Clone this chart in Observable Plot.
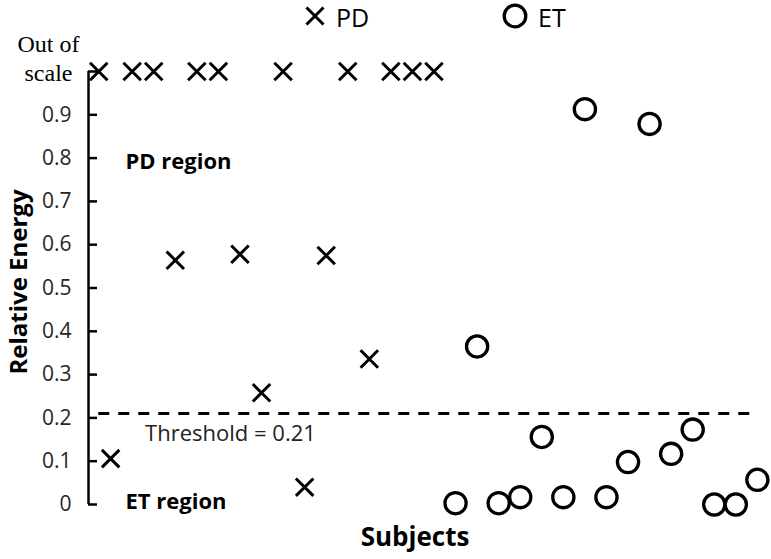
<!DOCTYPE html>
<html>
<head>
<meta charset="utf-8">
<script src="https://cdn.jsdelivr.net/npm/d3@7"></script>
<script src="https://cdn.jsdelivr.net/npm/@observablehq/plot@0.6"></script>
<style>
  body { margin: 0; background: #fff; font-family: "Open Sans", sans-serif; }
  #wrap { position: relative; width: 771px; }
  #legend { position: absolute; left: 0; top: 0; width: 771px; height: 34px; z-index: 1; }
  #legend .item { position: absolute; top: 0; height: 34px; display: flex; align-items: center; }
  #legend .label { font-size: 25px; color: #000; line-height: normal; margin-left: 10px; }
  #legend svg { display: block; margin-top: -3px; }
  #chart svg { display: block; }
</style>
</head>
<body>
<div id="wrap">
<div id="legend"></div>
<div id="chart"></div>
</div>
<script>
// ---- data ----
const OUT_OF_SCALE = 1.0; // value used to plot "Out of scale" subjects
const pdSubjects = [1.45, 2, 3, 4, 5, 6, 7, 8, 9, 10, 11, 12, 13, 14, 15, 16, 17];
const pdValues   = [1.0, 0.106, 1.0, 1.0, 0.564, 1.0, 1.0, 0.578, 0.258, 1.0, 0.04, 0.575, 1.0, 0.336, 1.0, 1.0, 1.0];
const etSubjects = [18, 19, 20, 21, 22, 23, 24, 25, 26, 27, 28, 29, 30, 31, 32];
const etValues   = [0.003, 0.365, 0.003, 0.017, 0.156, 0.017, 0.913, 0.017, 0.098, 0.879, 0.117, 0.173, 0.0, 0.0, 0.057];
const yTickValues = [0, 0.1, 0.2, 0.3, 0.4, 0.5, 0.6, 0.7, 0.8, 0.9];
const outOfScaleLabel = "Out of\nscale";
const threshold = 0.21;
const thresholdLabel = "Threshold = 0.21";
const regionLabels = ["PD region", "ET region"];
const regionSubjects = [2.69, 2.69];
const regionValues = [0.79, 0.006];
const thresholdLabelSubject = 3.6;
const thresholdLabelValue = 0.162;
const seriesNames = ["PD", "ET"];
const xTitle = "Subjects";
const yTitle = "Relative Energy";

// ---- tables ----
const pd = pdSubjects.map((s, i) => ({subject: s, value: pdValues[i]}));
const et = etSubjects.map((s, i) => ({subject: s, value: etValues[i]}));
const regions = regionLabels.map((t, i) => ({text: t, subject: regionSubjects[i], value: regionValues[i]}));
const allSubjects = pdSubjects.concat(etSubjects);

const W = 771, H = 559;
const mL = 88, mR = 4, mT = 71, mB = 55;
const xDomain = [0.974, 32.47];

// ---- legend (HTML, overlaid on the top strip of the page) ----
const legend = document.getElementById("legend");
legend.innerHTML = `
  <div class="item" style="left:304px">
    <svg width="22" height="22" viewBox="-11 -11 22 22"><path d="M-8.5,-8.5L8.5,8.5M8.5,-8.5L-8.5,8.5" stroke="#000" stroke-width="3"/></svg>
    <span class="label">${seriesNames[0]}</span>
  </div>
  <div class="item" style="left:502px">
    <svg width="26" height="26" viewBox="-13 -13 26 26"><circle r="10.8" fill="none" stroke="#000" stroke-width="3.3"/></svg>
    <span class="label">${seriesNames[1]}</span>
  </div>`;

// ---- chart ----
const chart = Plot.plot({
  width: W,
  height: H,
  marginLeft: mL,
  marginRight: mR,
  marginTop: mT,
  marginBottom: mB,
  style: {fontFamily: "Open Sans", fontSize: "20px", color: "#000", background: "transparent"},
  x: {domain: xDomain, axis: null},
  y: {domain: [0, OUT_OF_SCALE], axis: null},
  marks: [
    // y axis line
    Plot.ruleX([xDomain[0]], {y1: 0, y2: OUT_OF_SCALE, stroke: "#000", strokeWidth: 2.5}),
    // inward ticks
    Plot.tickY(yTickValues.concat([OUT_OF_SCALE]), {y: d => d, stroke: "#000", strokeWidth: 2.5,
      insetRight: W - mL - mR - 9}),
    // tick labels
    Plot.axisY(yTickValues, {tickSize: 0, tickPadding: 17, fontSize: 21, fill: "#262626", label: null,
      tickFormat: d => d === 0 ? "0" : d3.format(".1f")(d)}),
    Plot.text([outOfScaleLabel], {x: xDomain[0], y: OUT_OF_SCALE, text: d => d, dx: -40, dy: -14,
      textAnchor: "middle", lineAnchor: "middle", lineHeight: 1.17,
      fontFamily: "Liberation Serif", fontSize: 24, fill: "#000"}),
    // threshold
    Plot.ruleY([threshold], {x1: d3.min(allSubjects), x2: d3.max(allSubjects), stroke: "#000",
      strokeWidth: 3, strokeDasharray: "11,9"}),
    Plot.text([thresholdLabel], {x: thresholdLabelSubject, y: thresholdLabelValue, text: d => d,
      textAnchor: "start", fontSize: 22, fill: "#222"}),
    // region labels
    Plot.text(regions, {x: "subject", y: "value", text: "text", textAnchor: "start",
      fontWeight: "bold", fontSize: 22, fill: "#000"}),
    // data
    Plot.dot(pd, {x: "subject", y: "value", symbol: "times", r: 8, stroke: "#000", strokeWidth: 3}),
    Plot.dot(et, {x: "subject", y: "value", symbol: "circle", r: 10.6, stroke: "#000", strokeWidth: 3.3, fill: "none"}),
    // axis titles
    Plot.text([yTitle], {frameAnchor: "left", text: d => d, rotate: -90, dx: -69, dy: -6,
      fontWeight: "bold", fontSize: 24, fill: "#000", textAnchor: "middle"}),
    Plot.text([xTitle], {frameAnchor: "bottom", text: d => d, dx: -13, dy: 41,
      fontWeight: "bold", fontSize: 26, fill: "#000", textAnchor: "middle"})
  ]
});
document.getElementById("chart").appendChild(chart);
</script>
</body>
</html>
